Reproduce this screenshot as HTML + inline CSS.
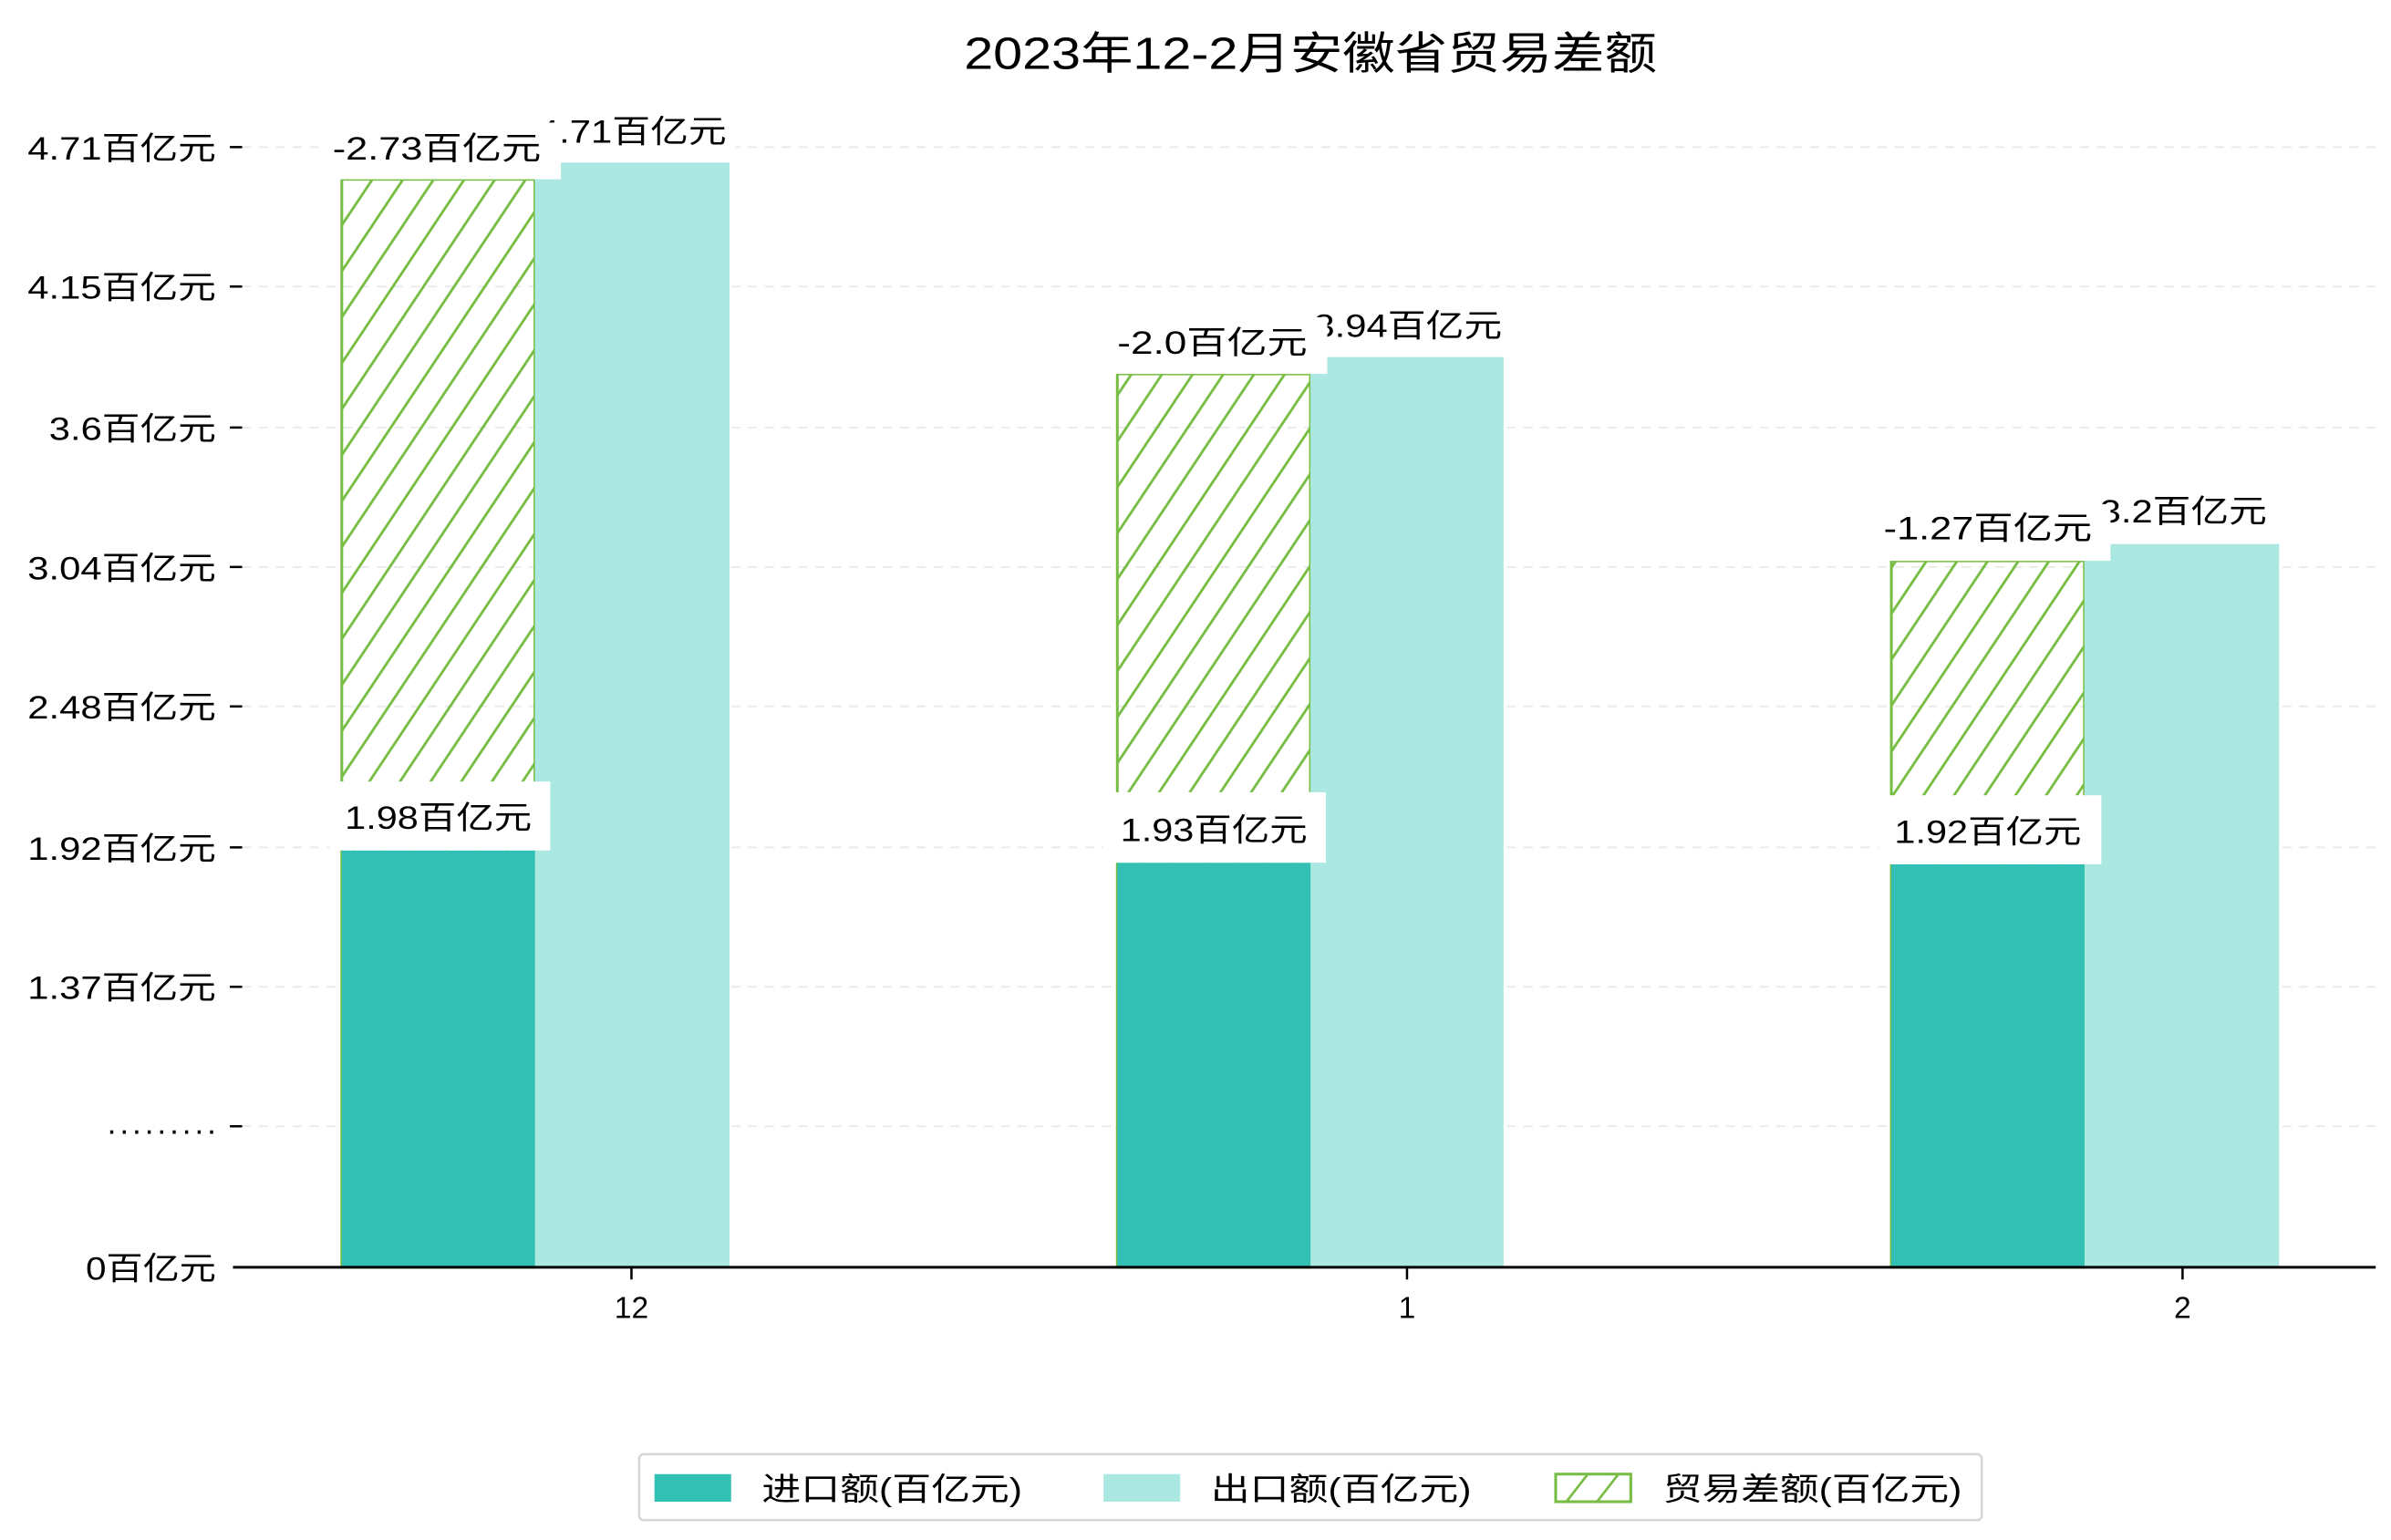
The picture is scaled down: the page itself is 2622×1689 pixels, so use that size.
<!DOCTYPE html>
<html><head><meta charset="utf-8"><style>
html,body{margin:0;padding:0;background:#fff;}
svg{display:block;}
text{font-family:"Liberation Sans","Noto Sans CJK SC",sans-serif;fill:#000;}
</style></head><body>
<svg width="2622" height="1689" viewBox="0 0 1560 1005" preserveAspectRatio="none" xmlns="http://www.w3.org/2000/svg">
<defs>
<pattern id="h" patternUnits="userSpaceOnUse" width="20" height="30" x="223" y="117">
<line x1="-10" y1="45" x2="30" y2="-15" stroke="#77bd44" stroke-width="1.7"/>
<line x1="10" y1="45" x2="50" y2="-15" stroke="#77bd44" stroke-width="1.7"/>
<line x1="-30" y1="45" x2="10" y2="-15" stroke="#77bd44" stroke-width="1.7"/>
</pattern>
</defs>
<rect width="1560" height="1005" fill="#fff"/>
<text x="629" y="45" font-size="29" textLength="452" lengthAdjust="spacingAndGlyphs">2023年12-2月安徽省贸易差额</text>
<g stroke="#ebebeb" stroke-width="1.2" stroke-dasharray="6,5">
<line x1="158" y1="96" x2="1550" y2="96"/><line x1="158" y1="187" x2="1550" y2="187"/>
<line x1="158" y1="279" x2="1550" y2="279"/><line x1="158" y1="370" x2="1550" y2="370"/>
<line x1="158" y1="461" x2="1550" y2="461"/><line x1="158" y1="553" x2="1550" y2="553"/>
<line x1="158" y1="644" x2="1550" y2="644"/><line x1="158" y1="735" x2="1550" y2="735"/>
</g>
<g stroke="#000" stroke-width="1.5">
<line x1="150" y1="96" x2="158" y2="96"/><line x1="150" y1="187" x2="158" y2="187"/>
<line x1="150" y1="279" x2="158" y2="279"/><line x1="150" y1="370" x2="158" y2="370"/>
<line x1="150" y1="461" x2="158" y2="461"/><line x1="150" y1="553" x2="158" y2="553"/>
<line x1="150" y1="644" x2="158" y2="644"/><line x1="150" y1="735" x2="158" y2="735"/>
</g>
<g font-size="21" lengthAdjust="spacingAndGlyphs">
<text x="18" y="104" textLength="123" lengthAdjust="spacingAndGlyphs">4.71百亿元</text>
<text x="18" y="195" textLength="123" lengthAdjust="spacingAndGlyphs">4.15百亿元</text>
<text x="32" y="287" textLength="109" lengthAdjust="spacingAndGlyphs">3.6百亿元</text>
<text x="18" y="378" textLength="123" lengthAdjust="spacingAndGlyphs">3.04百亿元</text>
<text x="18" y="469" textLength="123" lengthAdjust="spacingAndGlyphs">2.48百亿元</text>
<text x="18" y="561" textLength="123" lengthAdjust="spacingAndGlyphs">1.92百亿元</text>
<text x="18" y="652" textLength="123" lengthAdjust="spacingAndGlyphs">1.37百亿元</text>
<text x="70" y="740" textLength="71" lengthAdjust="spacing">.........</text>
<text x="56" y="835" textLength="85" lengthAdjust="spacingAndGlyphs">0百亿元</text>
</g>
<!-- hatched bars -->
<rect x="223" y="117" width="126" height="710" fill="url(#h)" stroke="#77bd44" stroke-width="1.8"/>
<rect x="729" y="244" width="126" height="583" fill="url(#h)" stroke="#77bd44" stroke-width="1.8"/>
<rect x="1234" y="366" width="126" height="461" fill="url(#h)" stroke="#77bd44" stroke-width="1.8"/>
<!-- export -->
<rect x="349" y="106" width="127" height="721" fill="#abe8e2"/>
<rect x="855" y="233" width="126" height="594" fill="#abe8e2"/>
<rect x="1360" y="355" width="127" height="472" fill="#abe8e2"/>
<!-- import -->
<rect x="223" y="555" width="126" height="272" fill="#31c0b3"/>
<rect x="729" y="563" width="126" height="264" fill="#31c0b3"/>
<rect x="1234" y="564" width="126" height="263" fill="#31c0b3"/>
<!-- labels -->
<g font-size="21">
<rect x="347" y="68" width="133" height="38" fill="#fff"/><text x="351" y="93" textLength="123" lengthAdjust="spacingAndGlyphs">4.71百亿元</text>
<rect x="213" y="80" width="153" height="37" fill="#fff"/><text x="217" y="104" textLength="136" lengthAdjust="spacingAndGlyphs">-2.73百亿元</text>
<rect x="215" y="510" width="144" height="45" fill="#fff"/><text x="225" y="541" textLength="122" lengthAdjust="spacingAndGlyphs">1.98百亿元</text>
<rect x="853" y="196" width="133" height="37" fill="#fff"/><text x="857" y="220" textLength="123" lengthAdjust="spacingAndGlyphs">3.94百亿元</text>
<rect x="718" y="207" width="148" height="37" fill="#fff"/><text x="729" y="231" textLength="124" lengthAdjust="spacingAndGlyphs">-2.0百亿元</text>
<rect x="720" y="517" width="145" height="46" fill="#fff"/><text x="731" y="549" textLength="122" lengthAdjust="spacingAndGlyphs">1.93百亿元</text>
<rect x="1372" y="318" width="115" height="37" fill="#fff"/><text x="1370" y="341" textLength="109" lengthAdjust="spacingAndGlyphs">3.2百亿元</text>
<rect x="1377" y="318" width="0" height="0" fill="#fff"/>
<rect x="1224" y="329" width="153" height="37" fill="#fff"/><text x="1229" y="352" textLength="136" lengthAdjust="spacingAndGlyphs">-1.27百亿元</text>
<rect x="1226" y="519" width="145" height="45" fill="#fff"/><text x="1236" y="550" textLength="122" lengthAdjust="spacingAndGlyphs">1.92百亿元</text>
</g>
<!-- axis -->
<line x1="152" y1="827" x2="1550" y2="827" stroke="#000" stroke-width="1.8"/>
<g stroke="#000" stroke-width="1.5">
<line x1="412" y1="827" x2="412" y2="835"/><line x1="918" y1="827" x2="918" y2="835"/><line x1="1424" y1="827" x2="1424" y2="835"/>
</g>
<g font-size="20" text-anchor="middle">
<text x="412" y="860">12</text><text x="918" y="860">1</text><text x="1424" y="860">2</text>
</g>
<!-- legend -->
<rect x="417" y="949" width="876" height="43" rx="3" fill="#fff" stroke="#d5d5d5" stroke-width="1.5"/>
<rect x="427" y="962" width="50" height="18" fill="#31c0b3"/>
<text x="497" y="979" font-size="21" textLength="170" lengthAdjust="spacingAndGlyphs">进口额(百亿元)</text>
<rect x="720" y="962" width="50" height="18" fill="#abe8e2"/>
<text x="790" y="979" font-size="21" textLength="170" lengthAdjust="spacingAndGlyphs">出口额(百亿元)</text>
<rect x="1015" y="962" width="49" height="18" fill="#fff" stroke="#77bd44" stroke-width="1.8"/>
<line x1="1022" y1="980" x2="1036" y2="962" stroke="#77bd44" stroke-width="1.6"/>
<line x1="1042" y1="980" x2="1056" y2="962" stroke="#77bd44" stroke-width="1.6"/>
<text x="1085" y="979" font-size="21" textLength="195" lengthAdjust="spacingAndGlyphs">贸易差额(百亿元)</text>
</svg>
</body></html>
